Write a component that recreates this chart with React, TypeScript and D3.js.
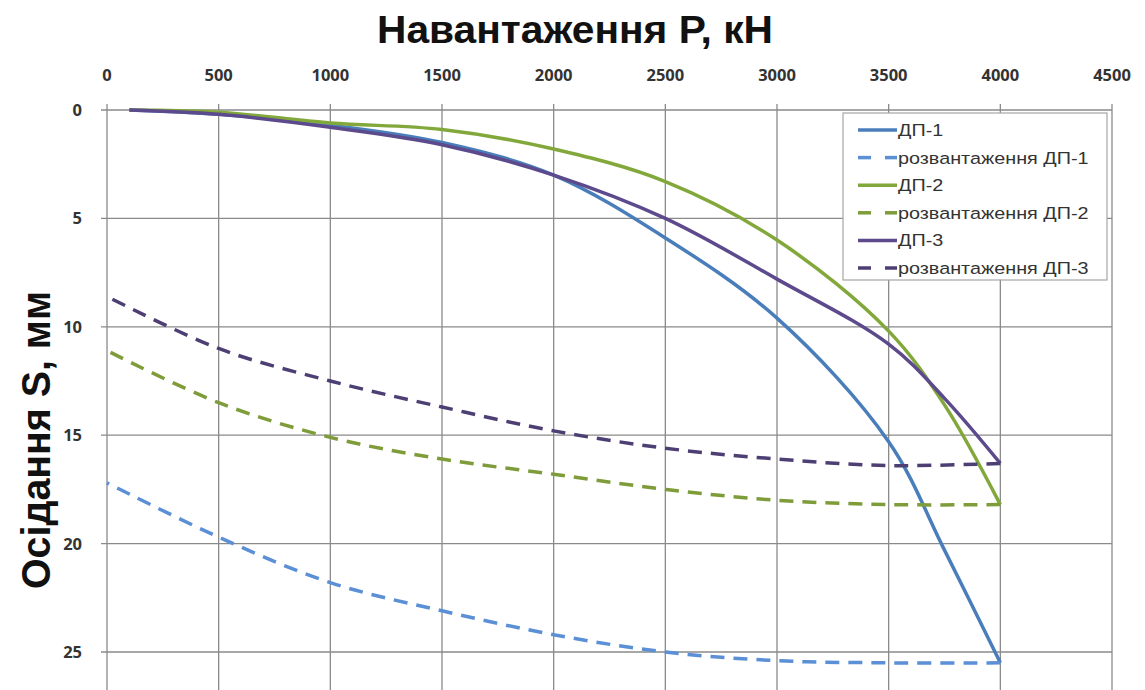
import { useMemo } from 'react'
import * as d3 from 'd3'

// Load P, kN (loading branch)
const loadP = [100, 500, 1000, 1500, 2000, 2500, 3000, 3500, 3750, 4000]
const dp1 = [0, 0.2, 0.7, 1.5, 3.0, 5.9, 9.6, 15.3, 20.3, 25.5]
const dp2 = [0, 0.1, 0.6, 0.9, 1.8, 3.3, 6.0, 10.2, 13.6, 18.2]
const dp3 = [0, 0.2, 0.8, 1.6, 3.0, 5.0, 7.8, 10.8, 13.3, 16.3]

// Unloading branch
const unloadP = [4000, 3500, 3000, 2500, 2000, 1500, 1000, 500, 0]
const unload1 = [25.5, 25.5, 25.4, 25.0, 24.2, 23.1, 21.8, 19.7, 17.2]
const unload2 = [18.2, 18.2, 18.0, 17.5, 16.8, 16.1, 15.1, 13.5, 11.1]
const unload3 = [16.3, 16.4, 16.1, 15.6, 14.8, 13.7, 12.5, 11.0, 8.6]

const xTicks = [0, 500, 1000, 1500, 2000, 2500, 3000, 3500, 4000, 4500]
const yTicks = [0, 5, 10, 15, 20, 25, 30]

const series = [
  { name: 'ДП-1', p: loadP, s: dp1, color: '#4a7ebb', dashed: false },
  { name: 'розвантаження ДП-1', p: unloadP, s: unload1, color: '#5b8fd6', dashed: true },
  { name: 'ДП-2', p: loadP, s: dp2, color: '#82a83c', dashed: false },
  { name: 'розвантаження ДП-2', p: unloadP, s: unload2, color: '#7f9c3a', dashed: true },
  { name: 'ДП-3', p: loadP, s: dp3, color: '#5c4a8c', dashed: false },
  { name: 'розвантаження ДП-3', p: unloadP, s: unload3, color: '#4d3f73', dashed: true },
]

const width = 1145
const height = 690
const margin = { top: 110, left: 107, right: 33 }
const font = '"Liberation Sans", Arial, sans-serif'
const tickFont = '"Open Sans", sans-serif'

export default function App() {
  const x = useMemo(
    () => d3.scaleLinear().domain([0, 4500]).range([margin.left, width - margin.right]),
    []
  )
  const y = useMemo(() => d3.scaleLinear().domain([0, 25]).range([margin.top, 652]), [])

  const line = (p: number[], s: number[]) =>
    d3
      .line<number>()
      .x((_, i) => x(p[i]))
      .y((d) => y(d))
      .curve(d3.curveCatmullRom.alpha(0.5))(s) || ''

  const plotBottom = y(30)

  return (
    <div style={{ position: 'fixed', left: 0, top: 0 }}>
      <svg width={width} height={height} style={{ display: 'block', background: '#fff' }}>
        {/* grid */}
        {xTicks.map((t) => (
          <line key={'gx' + t} x1={x(t)} x2={x(t)} y1={margin.top - 6} y2={plotBottom}
            stroke="#8a8a8a" strokeWidth={1.3} />
        ))}
        {yTicks.map((t) => (
          <line key={'gy' + t} x1={margin.left - 6} x2={x(4500)} y1={y(t)} y2={y(t)}
            stroke="#8a8a8a" strokeWidth={1.3} />
        ))}

        {/* tick labels */}
        {xTicks.map((t) => (
          <text key={'tx' + t} x={x(t)} y={81} textAnchor="middle" fontFamily={tickFont}
            fontWeight="bold" fontSize={16.5} fill="#333">{t}</text>
        ))}
        {yTicks.filter((t) => t <= 25).map((t) => (
          <text key={'ty' + t} x={82} y={y(t) + 6} textAnchor="end" fontFamily={tickFont}
            fontWeight="bold" fontSize={16.5} fill="#333">{t}</text>
        ))}

        {/* series */}
        {series.map((sr) => (
          <path key={sr.name} d={line(sr.p, sr.s)} fill="none" stroke={sr.color}
            strokeWidth={3.5} strokeDasharray={sr.dashed ? '14 9' : undefined}
            strokeLinejoin="round" />
        ))}

        {/* legend */}
        <g transform="translate(843,113)">
          <rect x={0} y={0} width={264} height={167} fill="#fff" stroke="#a6a6a6" strokeWidth={1.2} />
          {series.map((sr, i) => (
            <g key={'lg' + sr.name} transform={`translate(0,${17 + i * 27.6})`}>
              {sr.dashed ? (
                <>
                  <line x1={15} x2={28} y1={0} y2={0} stroke={sr.color} strokeWidth={3.5} />
                  <line x1={42} x2={54} y1={0} y2={0} stroke={sr.color} strokeWidth={3.5} />
                </>
              ) : (
                <line x1={15} x2={54} y1={0} y2={0} stroke={sr.color} strokeWidth={3.5} />
              )}
              <text transform="translate(55,6) scale(1.2,1)" fontFamily={font} fontSize={16.5}
                fill="#333">{sr.name}</text>
            </g>
          ))}
        </g>

        {/* titles */}
        <text x={575} y={43} textAnchor="middle" fontFamily={font} fontWeight="bold"
          fontSize={39} textLength={396} lengthAdjust="spacingAndGlyphs" fill="#111">
          Навантаження P, кН
        </text>
        <text transform="translate(50,440) rotate(-90)" textAnchor="middle" fontFamily={font}
          fontWeight="bold" fontSize={40} textLength={298} lengthAdjust="spacingAndGlyphs"
          fill="#111">Осідання S, мм</text>
      </svg>
    </div>
  )
}
